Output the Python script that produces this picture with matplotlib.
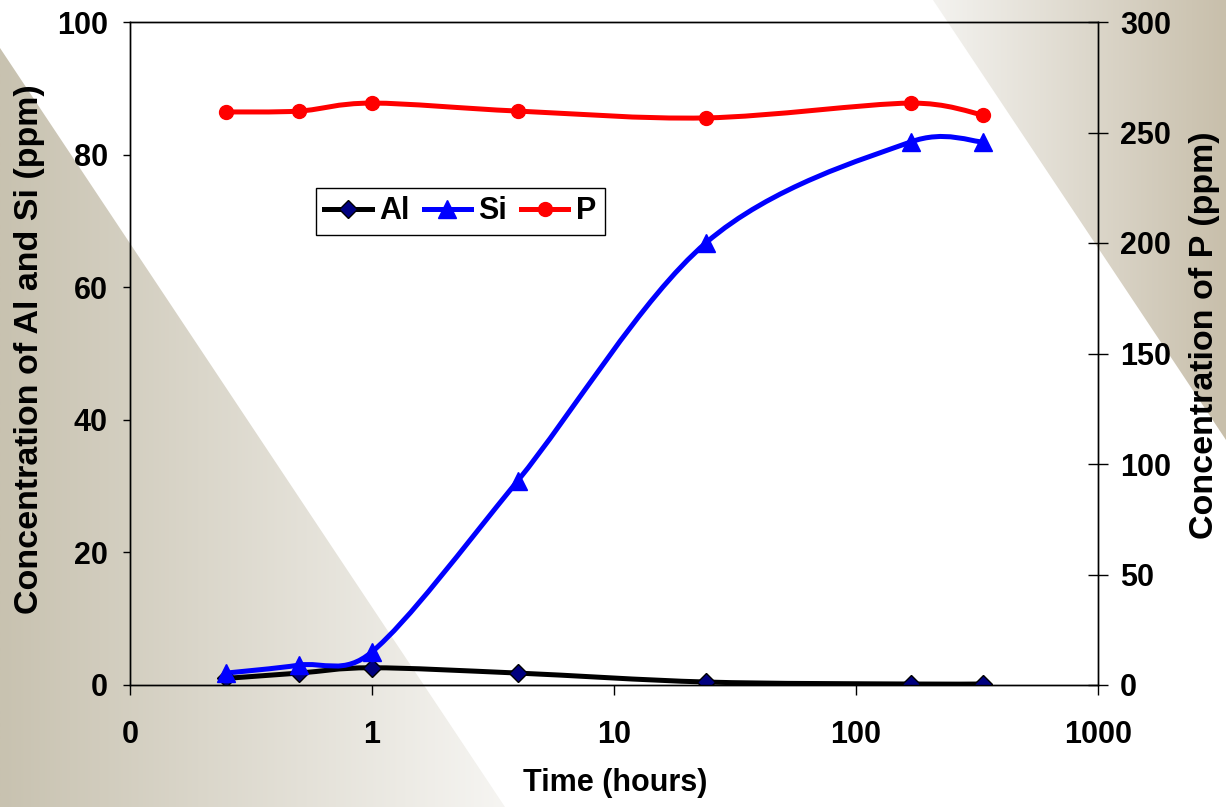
import numpy as np
import matplotlib
matplotlib.use('Agg')
import matplotlib.pyplot as plt
from matplotlib.path import Path
from matplotlib.patches import PathPatch, Polygon
from matplotlib.lines import Line2D

time_h = [0.25, 0.5, 1, 4, 24, 168, 336]
al = [1.0, 1.8, 2.6, 1.8, 0.45, 0.15, 0.15]
si = [1.8, 3.0, 5.0, 30.8, 66.7, 81.9, 81.9]
p = [259.3, 259.7, 263.3, 259.7, 256.6, 263.3, 257.9]

xticks = [0.1, 1, 10, 100, 1000]
xticklabels = ['0', '1', '10', '100', '1000']

plt.rcParams['font.family'] = ['Liberation Sans', 'DejaVu Sans']
plt.rcParams['font.weight'] = 'bold'
fs = 22

W, H = 1226, 807
fig = plt.figure(figsize=(W / 100, H / 100), dpi=100)
fig.patch.set_facecolor('white')

# background decoration: two diagonal gradient wedges
bg = fig.add_axes([0, 0, 1, 1], zorder=-5)
bg.set_xlim(0, W)
bg.set_ylim(H, 0)
bg.axis('off')

def wedge(verts, c_dark, c_light, dark_left):
  xs = [v[0] for v in verts]
  x0, x1 = min(xs), max(xs)
  t = np.linspace(0, 1, 256)
  if dark_left:
    t = t[::-1]
  c0 = np.array(c_light) / 255
  c1 = np.array(c_dark) / 255
  img = (c0[None, :] * (1 - t[:, None]) + c1[None, :] * t[:, None])[None, :, :]
  im = bg.imshow(img, extent=[x0, x1, H, 0], aspect='auto', interpolation='bilinear')
  poly = Polygon(verts, closed=True, transform=bg.transData, facecolor='none', edgecolor='none')
  bg.add_patch(poly)
  im.set_clip_path(poly)

wedge([(0, 48), (0, H), (505, H)], (200, 194, 176), (246, 245, 242), True)
wedge([(933, 0), (W, 0), (W, 440)], (200, 191, 171), (244, 243, 240), False)
bg.set_xlim(0, W)
bg.set_ylim(H, 0)

ax = fig.add_axes([130 / W, 1 - 685 / H, 968 / W, 663 / H])
ax.set_facecolor('none')
ax2 = ax.twinx()
ax2.set_facecolor('none')

ax.set_xscale('log')
ax.set_xlim(0.1, 1000)
ax.set_ylim(0, 100)
ax2.set_ylim(0, 300)

# smoothed line like excel, built in pixel-like space
def smooth(axis, xs, ys, sy, color):
  sx = 242.0
  pts = np.column_stack([np.log10(xs) * sx, np.array(ys) * sy])
  n = len(pts)
  verts = [pts[0]]
  codes = [Path.MOVETO]
  for i in range(n - 1):
    p0 = pts[max(i - 1, 0)]
    p1 = pts[i]
    p2 = pts[i + 1]
    p3 = pts[min(i + 2, n - 1)]
    seg = np.hypot(*(p2 - p1))
    a1 = (p2 - p0) / 6
    a2 = (p3 - p1) / 6
    # keep the arms from getting too long vs the segment
    for a in (a1, a2):
      l = np.hypot(*a)
      if l > 0.5 * seg:
        a *= 0.5 * seg / l
    verts += [p1 + a1, p2 - a2, p2]
    codes += [Path.CURVE4] * 3
  verts = np.array(verts)
  verts = np.column_stack([10 ** (verts[:, 0] / sx), verts[:, 1] / sy])
  patch = PathPatch(Path(verts, codes), facecolor='none', edgecolor=color, lw=3.6,
                    capstyle='round', joinstyle='round', zorder=2)
  axis.add_patch(patch)

smooth(ax, time_h, al, 6.63, 'black')
ax.plot(time_h, al, ls='none', marker='D', ms=9, mfc='#000080', mec='black', mew=1, zorder=3)
smooth(ax, time_h, si, 6.63, '#0000ff')
ax.plot(time_h, si, ls='none', marker='^', ms=13, mfc='#0000ff', mec='#0000ff', zorder=3)
ax2.set_xscale('log')
ax2.set_xlim(0.1, 1000)
smooth(ax2, time_h, p, 2.21, '#ff0000')
ax2.plot(time_h, p, ls='none', marker='o', ms=10, mfc='#ff0000', mec='#ff0000', zorder=3)

ax.set_xticks(xticks)
ax.set_xticklabels(xticklabels)
ax.xaxis.set_minor_locator(matplotlib.ticker.NullLocator())
ax.set_yticks(np.arange(0, 101, 20))
ax2.set_yticks(np.arange(0, 301, 50))

ax.tick_params(axis='x', direction='out', length=7, width=1, pad=18, labelsize=fs)
ax.tick_params(axis='y', direction='out', length=5, width=1, pad=11, labelsize=fs)
ax2.tick_params(axis='y', direction='inout', length=14, width=1, pad=9, labelsize=fs)
for a in (ax, ax2):
  for s in a.spines.values():
    s.set_linewidth(1)
    s.set_color('black')

ax.set_xlabel('Time (hours)', fontsize=fs, fontweight='bold')
ax.xaxis.set_label_coords(0.501, -0.125)
ax.set_ylabel('Concentration of Al and Si (ppm)', fontsize=24.5, fontweight='bold')
ax.yaxis.set_label_coords(-0.088, 0.507)
ax2.set_ylabel('Concentration of P (ppm)', fontsize=24.5, fontweight='bold')
ax2.yaxis.set_label_coords(1.094, 0.528)

handles = [
  Line2D([], [], color='black', lw=3.6, marker='D', ms=9, mfc='#000080', mec='black'),
  Line2D([], [], color='#0000ff', lw=3.6, marker='^', ms=13, mfc='#0000ff', mec='#0000ff'),
  Line2D([], [], color='#ff0000', lw=3.6, marker='o', ms=10, mfc='#ff0000', mec='#ff0000'),
]
leg = ax2.legend(handles, ['Al', 'Si', 'P'], loc='upper left', bbox_to_anchor=(0.192, 0.75),
                 borderaxespad=0, ncol=3, fontsize=fs, frameon=True, fancybox=False,
                 framealpha=1, edgecolor='black', handlelength=1.55, handletextpad=0.25,
                 columnspacing=0.45, borderpad=0.28)
leg.get_frame().set_linewidth(1)

fig.savefig('out.png', dpi=100)
